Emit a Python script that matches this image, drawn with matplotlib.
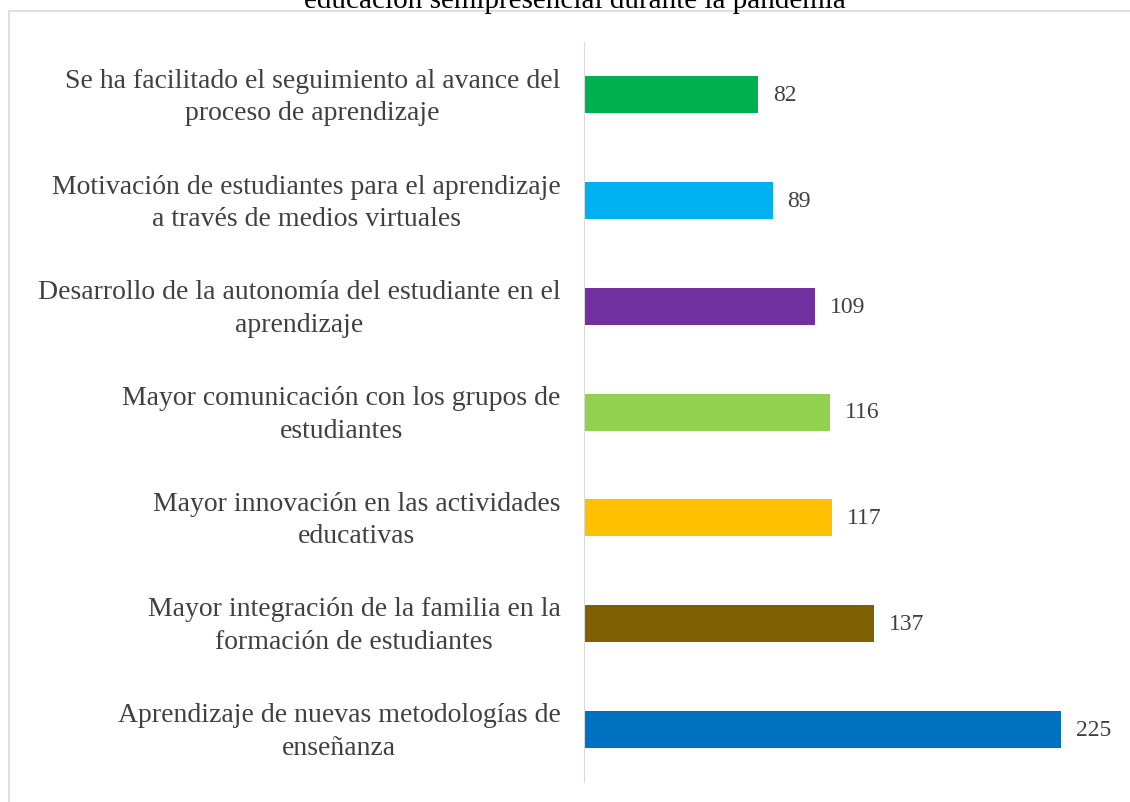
import matplotlib.pyplot as plt
import matplotlib.transforms as mtrans
from matplotlib.patches import Rectangle

plt.rcParams['font.family'] = ['Liberation Serif', 'DejaVu Serif']

# datos (de abajo hacia arriba)
categorias = [
    'Aprendizaje de nuevas metodologías de\nenseñanza',
    'Mayor integración de la familia en la\nformación de estudiantes',
    'Mayor innovación en las actividades\neducativas',
    'Mayor comunicación con los grupos de\nestudiantes',
    'Desarrollo de la autonomía del estudiante en el\naprendizaje',
    'Motivación de estudiantes para el aprendizaje\na través de medios virtuales',
    'Se ha facilitado el seguimiento al avance del\nproceso de aprendizaje',
]
valores = [225, 137, 117, 116, 109, 89, 82]
colores = ['#0070C0', '#7F6000', '#FFC000', '#92D050', '#7030A0', '#00B0F0', '#00B050']
titulo = 'educación semipresencial durante la pandemia'

fig = plt.figure(figsize=(11.3, 8.03), dpi=100)

# marco del gráfico
fig.patches.append(Rectangle((9 / 1130, -0.01), 1.2, 1 - 12 / 803 + 0.01,
                             transform=fig.transFigure, fill=False,
                             edgecolor='#D9D9D9', linewidth=1.2))

ax = fig.add_axes([584 / 1130, 20 / 803, 526 / 1130, 740 / 803])
pos = range(len(valores))
ax.barh(pos, valores, height=0.35, color=colores)
for p, v in zip(pos, valores):
    ax.text(v + 7, p, str(v), va='center', ha='left', fontsize=17, color='#404040')

ax.set_xlim(0, 526 / 2.12)
ax.set_ylim(-0.5, 6.5)
ax.set_yticks(list(pos))
ax.set_yticklabels(categorias, fontsize=20, color='#404040',
                   multialignment='center', linespacing=1.4)
ax.tick_params(axis='y', length=0, pad=17)
ax.set_xticks([])
for s in ['top', 'right', 'bottom']:
    ax.spines[s].set_visible(False)
ax.spines['left'].set_color('#D9D9D9')

# subir un poco las etiquetas
desplaz = mtrans.ScaledTranslation(0, 0.05, fig.dpi_scale_trans)
for lab in ax.get_yticklabels():
    lab.set_transform(lab.get_transform() + desplaz)

fig.text(575 / 1130, 1.0, titulo, ha='center', va='center', fontsize=21, color='#000000')

fig.savefig('out.png', dpi=100)
